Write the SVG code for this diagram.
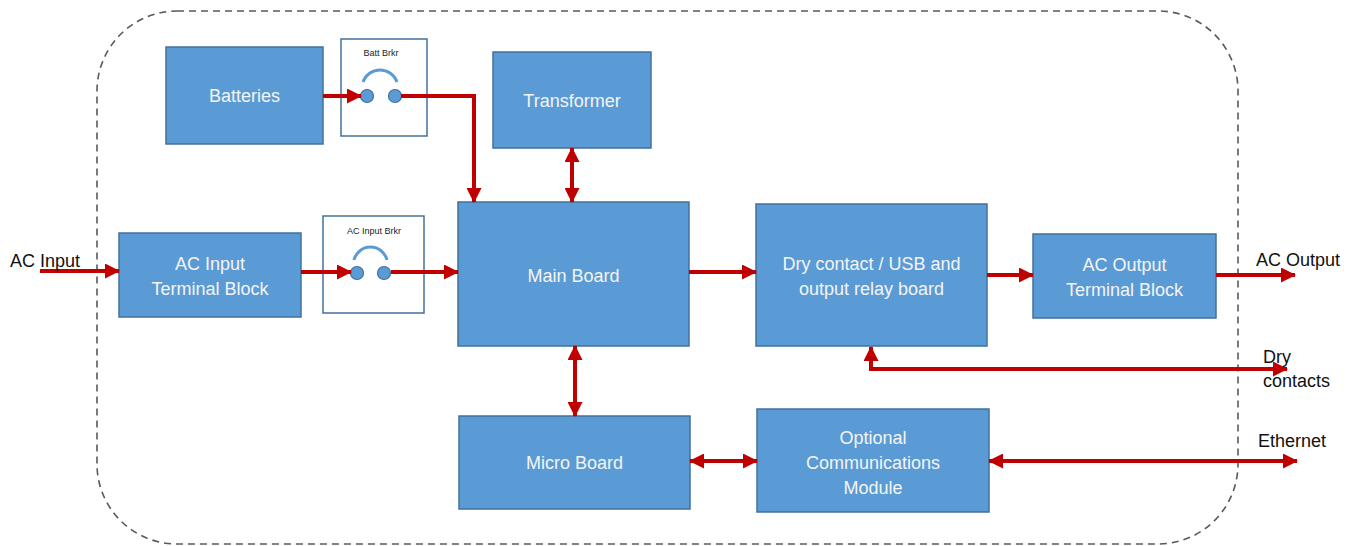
<svg xmlns="http://www.w3.org/2000/svg" width="1355" height="546" viewBox="0 0 1355 546">
<defs>
<style>
.node{fill:#5B9BD5;stroke:#41719C;stroke-width:1.5}
.brk{fill:#ffffff;stroke:#41719C;stroke-width:1.5}
.nt{font-family:"Liberation Sans",Arial,sans-serif;font-size:18px;fill:#F4F4F4;text-anchor:middle}
.lbl{font-family:"Liberation Sans",Arial,sans-serif;font-size:18px;fill:#111111}
.sm{font-family:"Liberation Sans",Arial,sans-serif;font-size:9px;fill:#222222;text-anchor:middle}
.c{fill:#5B9BD5;stroke:#41719C;stroke-width:1.2}
.arc{fill:none;stroke:#5B9BD5;stroke-width:3}
.wire{fill:none;stroke:#C00000;stroke-width:4}
.ar{marker-end:url(#ah)}
.ar2{marker-start:url(#ah);marker-end:url(#ah)}
</style>
<marker id="ah" viewBox="0 0 15 15" refX="14" refY="7.5" markerWidth="15" markerHeight="15" markerUnits="userSpaceOnUse" orient="auto-start-reverse">
<path d="M0,0 L15,7.5 L0,15 z" fill="#C00000"/>
</marker>
</defs>
<rect width="1355" height="546" fill="#ffffff"/>
<rect id="boundary" x="97" y="11" width="1141" height="533" rx="80" ry="80" fill="none" stroke="#555a60" stroke-width="1.6" stroke-dasharray="7,5"/>

<g id="batteries"><rect class="node" x="166" y="47" width="157" height="97"/><text class="nt" x="244.5" y="102">Batteries</text></g>
<g id="batt-brkr"><rect class="brk" x="341" y="39" width="86" height="97"/><text class="sm" x="381" y="56">Batt Brkr</text><path class="arc" d="M363,82 A18,18 0 0 1 397,82"/><circle class="c" cx="367" cy="96" r="6.5"/><circle class="c" cx="395" cy="96" r="6.5"/></g>
<g id="transformer"><rect class="node" x="493" y="52" width="158" height="96"/><text class="nt" x="572" y="107">Transformer</text></g>
<g id="ac-input-tb"><rect class="node" x="119" y="233" width="182" height="84"/><text class="nt" x="210" y="270">AC Input</text><text class="nt" x="210" y="295">Terminal Block</text></g>
<g id="ac-input-brkr"><rect class="brk" x="323" y="216" width="101" height="97"/><text class="sm" x="374" y="234">AC Input Brkr</text><path class="arc" d="M354,260 A17,17 0 0 1 387,260"/><circle class="c" cx="357" cy="273" r="6.5"/><circle class="c" cx="384" cy="273" r="6.5"/></g>
<g id="main-board"><rect class="node" x="458" y="202" width="231" height="144"/><text class="nt" x="573.5" y="282">Main Board</text></g>
<g id="dry-contact-board"><rect class="node" x="756" y="204" width="231" height="142"/><text class="nt" x="871.5" y="270">Dry contact / USB and</text><text class="nt" x="871.5" y="295">output relay board</text></g>
<g id="ac-output-tb"><rect class="node" x="1033" y="234" width="183" height="84"/><text class="nt" x="1124.5" y="271">AC Output</text><text class="nt" x="1124.5" y="296">Terminal Block</text></g>
<g id="micro-board"><rect class="node" x="459" y="416" width="231" height="93"/><text class="nt" x="574.5" y="469">Micro Board</text></g>
<g id="comms-module"><rect class="node" x="757" y="409" width="232" height="103"/><text class="nt" x="873" y="444">Optional</text><text class="nt" x="873" y="469">Communications</text><text class="nt" x="873" y="494">Module</text></g>

<g id="connectors">
<path class="wire ar" d="M40,271 H119"/>
<path class="wire ar" d="M301,272 H351"/>
<path class="wire ar" d="M391,272 H458"/>
<path class="wire ar" d="M323,96 H361"/>
<path class="wire ar" d="M401,96 H474 V202"/>
<path class="wire ar2" d="M572,148 V202"/>
<path class="wire ar" d="M689,272 H756"/>
<path class="wire ar" d="M987,275 H1033"/>
<path class="wire ar" d="M1216,275 H1295"/>
<path class="wire ar2" d="M575,346 V416"/>
<path class="wire ar2" d="M690,461 H757"/>
<path class="wire ar2" d="M989,461 H1297"/>
<path class="wire ar2" d="M871,347 V369 H1287"/>
</g>

<g id="labels">
<text class="lbl" x="10" y="267">AC Input</text>
<text class="lbl" x="1256" y="266">AC Output</text>
<text class="lbl" x="1263" y="363">Dry</text>
<text class="lbl" x="1263" y="387">contacts</text>
<text class="lbl" x="1258" y="447">Ethernet</text>
</g>
</svg>
